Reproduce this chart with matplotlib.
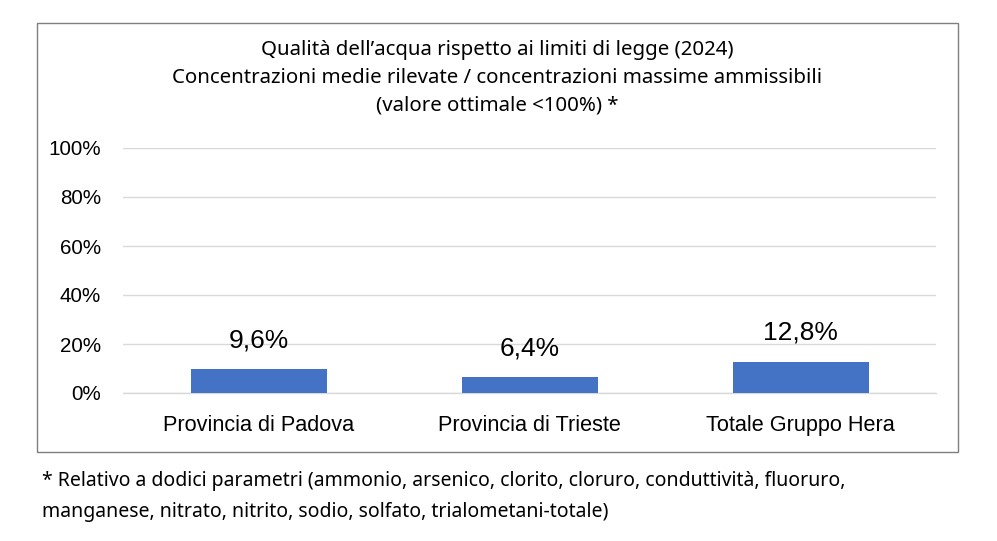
import matplotlib
matplotlib.use("Agg")
import matplotlib.pyplot as plt
from matplotlib.patches import Rectangle
from matplotlib.ticker import FixedLocator

categories = ["Provincia di Padova", "Provincia di Trieste", "Totale Gruppo Hera"]
values = [9.6, 6.4, 12.8]
value_labels = ["9,6%", "6,4%", "12,8%"]
yticks = [0, 20, 40, 60, 80, 100]
ytick_labels = ["0%", "20%", "40%", "60%", "80%", "100%"]
title_lines = ["Qualità dell\u2019acqua rispetto ai limiti di legge (2024)",
               "Concentrazioni medie rilevate / concentrazioni massime ammissibili",
               "(valore ottimale <100%) *"]
footnote_lines = ["* Relativo a dodici parametri (ammonio, arsenico, clorito, cloruro, conduttività, fluoruro,",
                  "manganese, nitrato, nitrito, sodio, solfato, trialometani-totale)"]

W, H = 997, 541
fig = plt.figure(figsize=(W / 100, H / 100), dpi=100)
fig.patch.set_facecolor("white")

# chart border
fig.patches.append(Rectangle((37 / W, 1 - 452 / H), (958 - 37) / W, (452 - 23) / H,
                             transform=fig.transFigure, fill=False,
                             edgecolor="#7f7f7f", linewidth=1.0))

ax = fig.add_axes([123 / W, 1 - 393 / H, (936 - 123) / W, (393 - 148) / H])
x = list(range(len(categories)))
ax.bar(x, values, width=136 / 271, color="#4472C4", zorder=3)
ax.set_xlim(-0.5, len(categories) - 0.5)
ax.set_ylim(0, 100)
ax.yaxis.set_major_locator(FixedLocator(yticks))
ax.set_yticklabels(ytick_labels, family="Liberation Sans", fontsize=14.9, color="#000000")
ax.set_xticks(x)
ax.set_xticklabels(categories, family="Liberation Sans", fontsize=15.6, color="#000000")
ax.tick_params(axis="both", length=0)
ax.tick_params(axis="y", pad=16)
ax.tick_params(axis="x", pad=16)
ax.grid(axis="y", color="#d9d9d9", linewidth=1.0, zorder=0)
for s in ["top", "right", "left"]:
    ax.spines[s].set_visible(False)
ax.spines["bottom"].set_color("#d9d9d9")
ax.spines["bottom"].set_linewidth(1.0)
ax.set_facecolor("none")

for xi, v, lab in zip(x, values, value_labels):
    ax.annotate(lab, (xi, v), xytext=(0, 12), textcoords="offset points",
                ha="center", va="bottom", family="Liberation Sans",
                fontsize=19, color="#000000")

for i, line in enumerate(title_lines):
    fig.text(497 / W, 1 - (50 + 28 * i) / H, line, ha="center", va="center",
             family="Noto Sans", fontsize=14.7, color="#000000")

for i, line in enumerate(footnote_lines):
    fig.text(42 / W, 1 - (481 + 31 * i) / H, line, ha="left", va="center",
             family="Noto Sans", fontsize=14.0, color="#000000")

fig.savefig("out.png", dpi=100, facecolor="white")
